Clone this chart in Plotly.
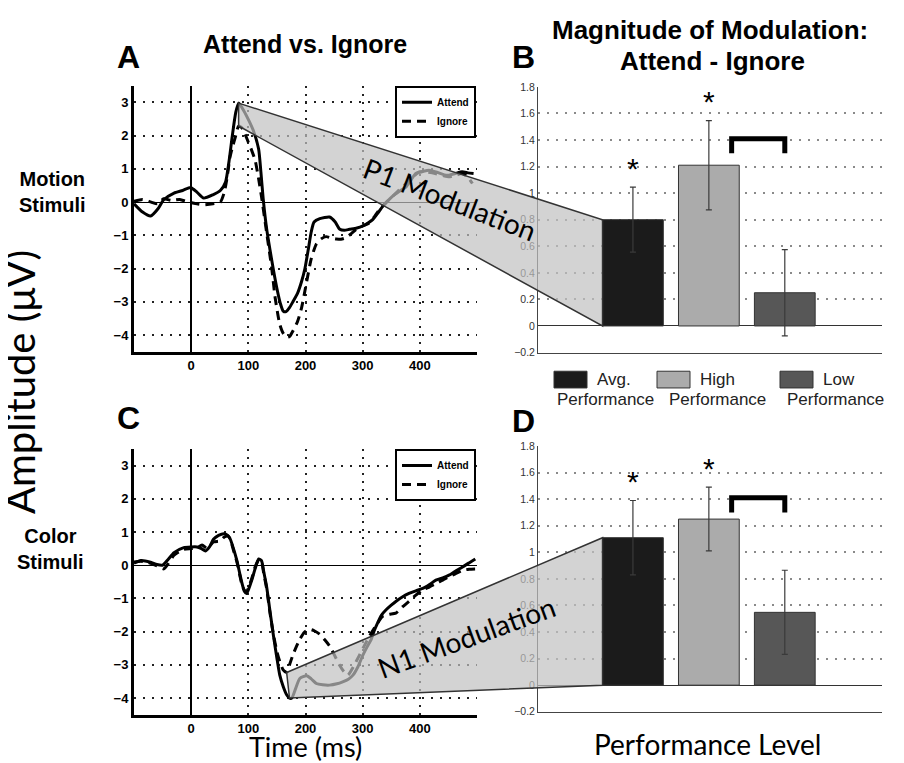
import plotly.graph_objects as go

# ---------------- data ----------------
# Panel A: Motion stimuli ERP (uV)
tA_att = [-100, -85, -71, -58, -48, -30, -15, -1, 10, 22, 38, 51, 60, 66, 72, 78, 83, 92, 101, 109,
          118, 122, 126, 132, 138, 144, 150, 156, 161, 166, 172, 178, 186, 193, 199, 205, 210, 215,
          225, 242, 252, 260, 268, 277, 290, 300, 310, 318, 328, 335, 343, 352, 364, 376, 385, 393,
          405, 416, 430, 443, 451, 462, 474, 484, 494]
vA_att = [-0.05, -0.3, -0.42, -0.2, 0.07, 0.27, 0.35, 0.44, 0.3, 0.12, 0.22, 0.35, 0.6, 1.2, 2.0, 2.7,
          2.98, 2.75, 2.45, 2.14, 1.6, 0.9, 0.1, -0.8, -1.45, -2.05, -2.6, -3.05, -3.28, -3.3, -3.18,
          -3.0, -2.75, -2.4, -2.0, -1.41, -0.9, -0.6, -0.5, -0.45, -0.6, -0.82, -0.85, -0.82, -0.78,
          -0.72, -0.62, -0.52, -0.3, -0.13, 0.02, 0.17, 0.32, 0.46, 0.68, 0.86, 0.92, 0.96, 0.9, 0.82,
          0.81, 0.86, 0.91, 0.88, 0.86]
tA_ign = [-100, -85, -70, -59, -48, -35, -20, -5, 10, 22, 38, 51, 58, 63, 68, 73, 77, 83, 88, 92, 100,
          106, 112, 118, 123, 132, 141, 147, 155, 161, 167, 172, 178, 186, 193, 202, 210, 219, 228,
          236, 245, 254, 262, 271, 280, 289, 300, 312, 320, 329, 340, 352, 364, 376, 388, 399, 413,
          427, 440, 451, 462, 474, 484, 492]
vA_ign = [0.02, 0.08, 0.0, -0.05, 0.1, 0.05, 0.08, 0.0, -0.05, -0.08, -0.05, 0.0, 0.3, 0.76, 1.36, 1.7,
          1.94, 2.29, 2.25, 2.14, 1.8, 1.55, 1.25, 0.7, 0.17, -0.92, -2.0, -2.89, -3.68, -3.95, -4.07,
          -4.05, -3.88, -3.6, -3.19, -2.4, -1.71, -1.26, -1.1, -1.04, -1.08, -1.11, -1.12, -1.07,
          -0.95, -0.82, -0.72, -0.62, -0.45, -0.23, -0.03, 0.17, 0.37, 0.56, 0.75, 0.91, 0.9, 0.86,
          0.8, 0.76, 0.8, 0.86, 0.75, 0.56]

# Panel C: Color stimuli ERP (uV)
tC_att = [-100, -88, -71, -60, -50, -40, -30, -13, 0, 10, 18, 25, 32, 39, 48, 57, 64, 68, 74, 80, 85,
          89, 93, 97, 101, 106, 112, 118, 123, 127, 132, 138, 144, 150, 155, 161, 167, 172, 176, 183,
          190, 202, 210, 219, 230, 242, 255, 265, 275, 283, 292, 300, 308, 315, 320, 326, 333, 341,
          350, 358, 370, 381, 393, 405, 417, 428, 440, 451, 462, 474, 486, 497]
vC_att = [0.06, 0.14, 0.09, 0.02, 0.0, 0.18, 0.38, 0.53, 0.55, 0.55, 0.5, 0.43, 0.55, 0.78, 0.9, 0.95,
          0.9, 0.8, 0.5, 0.14, -0.25, -0.55, -0.78, -0.85, -0.7, -0.45, -0.1, 0.19, 0.14, -0.2, -0.65,
          -1.4, -2.13, -2.8, -3.31, -3.65, -3.9, -4.0, -4.0, -3.7, -3.41, -3.33, -3.42, -3.56, -3.6,
          -3.61, -3.57, -3.51, -3.43, -3.31, -3.05, -2.72, -2.45, -2.23, -1.98, -1.74, -1.5, -1.34,
          -1.2, -1.09, -0.95, -0.85, -0.77, -0.7, -0.58, -0.45, -0.38, -0.3, -0.18, -0.06, 0.07, 0.19]
tC_ign = [-100, -88, -75, -60, -48, -40, -30, -13, 0, 10, 19, 28, 39, 51, 58, 64, 68, 74, 80, 85, 89,
          93, 97, 101, 106, 112, 118, 123, 127, 132, 138, 144, 150, 155, 161, 167, 172, 178, 184, 190,
          198, 207, 216, 225, 234, 242, 251, 260, 267, 274, 284, 294, 303, 312, 324, 335, 346, 358,
          370, 381, 393, 405, 417, 428, 440, 451, 462, 474, 486, 497]
vC_ign = [0.1, 0.12, 0.08, -0.02, -0.11, 0.05, 0.3, 0.48, 0.5, 0.52, 0.61, 0.5, 0.7, 0.73, 0.85, 0.88,
          0.8, 0.45, 0.1, -0.3, -0.6, -0.75, -0.8, -0.65, -0.4, -0.05, 0.15, 0.1, -0.25, -0.7, -1.45,
          -2.1, -2.6, -2.9, -3.15, -3.23, -3.0, -2.7, -2.45, -2.23, -2.02, -1.93, -1.98, -2.08, -2.25,
          -2.43, -2.72, -3.02, -3.2, -3.31, -3.05, -2.72, -2.42, -2.13, -1.8, -1.54, -1.48, -1.44,
          -1.25, -1.09, -0.9, -0.75, -0.65, -0.55, -0.45, -0.35, -0.26, -0.16, -0.12, -0.11]

# Panels B / D: modulation magnitude (Attend - Ignore)
groups = ["Avg.", "High", "Low"]
group_pos = [1, 2, 3]
bar_colors = ["#1b1b1b", "#ababab", "#575757"]
mod_B = [0.80, 1.21, 0.25]
err_B = [0.245, 0.336, 0.325]
mod_D = [1.11, 1.25, 0.548]
err_D = [0.28, 0.24, 0.317]
sig_B = [True, True, False]
sig_D = [True, True, False]
bracket_pos = [2.3, 3.0]        # High vs Low comparison
bracket_y = [1.30, 1.41]

erp_yticks = [-4, -3, -2, -1, 0, 1, 2, 3]
erp_xticks = [0, 100, 200, 300, 400]
bar_yticks = [-0.2, 0, 0.2, 0.4, 0.6, 0.8, 1, 1.2, 1.4, 1.6, 1.8]

# ---------------- layout geometry ----------------
# The page body has an 8px margin, so the figure is drawn at (8, 8) in the window.
OFF = 8
W, H = 904 - OFF, 763 - OFF


def fx(px):
    return (px - OFF) / W


def fy(py):
    return 1 - (py - OFF) / H


XD_L = [fx(134), fx(477)]
XD_R = [fx(538), fx(882)]
YD_A = [fy(351), fy(81)]
YD_C = [fy(720), fy(450)]
YD_B = [fy(352), fy(82)]
YD_D = [fy(717), fy(447)]
XR = [-100, 500]
YR = [-4.5, 3.5]
BXR = [-0.25, 4.28]
BYR = [-0.2, 1.8]
BAR_W = 0.8

BOLD = "Liberation Sans, Arial, Helvetica, sans-serif"
HUM = "Lato, 'Open Sans', 'Liberation Sans', sans-serif"


def minus(v):
    s = ("%g" % v)
    return s.replace("-", "\u2212")


fig = go.Figure()

att_line = dict(color="black", width=3, shape="spline", smoothing=0.6)
ign_line = dict(color="black", width=3, dash="9px,6px", shape="spline", smoothing=0.6)

fig.add_trace(go.Scatter(x=tA_att, y=vA_att, mode="lines", line=att_line, name="<b>Attend</b>",
                         xaxis="x", yaxis="y", legend="legend"))
fig.add_trace(go.Scatter(x=tA_ign, y=vA_ign, mode="lines", line=ign_line, name="<b>Ignore</b>",
                         xaxis="x", yaxis="y", legend="legend"))
fig.add_trace(go.Scatter(x=tC_att, y=vC_att, mode="lines", line=att_line, name="<b>Attend</b>",
                         xaxis="x3", yaxis="y3", legend="legend2"))
fig.add_trace(go.Scatter(x=tC_ign, y=vC_ign, mode="lines", line=ign_line, name="<b>Ignore</b>",
                         xaxis="x3", yaxis="y3", legend="legend2"))


def bar_panel(vals, errs, sig, xa, ya):
    fig.add_trace(go.Bar(x=group_pos, y=vals, width=BAR_W,
                         marker=dict(color=bar_colors, line=dict(color="#333333", width=1)),
                         error_y=dict(type="data", array=errs, color="#3a3a3a", thickness=1.2, width=3),
                         showlegend=False, xaxis=xa, yaxis=ya))
    sx = [p for p, s in zip(group_pos, sig) if s]
    sy = [v + e + 0.12 for v, e, s in zip(vals, errs, sig) if s]
    fig.add_trace(go.Scatter(x=sx, y=sy, mode="text", text=["*"] * len(sx),
                             textfont=dict(family=BOLD, size=30, color="black"),
                             showlegend=False, xaxis=xa, yaxis=ya))
    fig.add_trace(go.Scatter(x=[bracket_pos[0], bracket_pos[0], bracket_pos[1], bracket_pos[1]],
                             y=[bracket_y[0], bracket_y[1], bracket_y[1], bracket_y[0]],
                             mode="lines", line=dict(color="black", width=5),
                             showlegend=False, xaxis=xa, yaxis=ya))


bar_panel(mod_B, err_B, sig_B, "x2", "y2")
bar_panel(mod_D, err_D, sig_D, "x4", "y4")


def erp_axes(dom_y):
    xa = dict(domain=XD_L, range=XR, tickvals=erp_xticks, ticktext=[str(t) for t in erp_xticks],
              tickfont=dict(family=BOLD, size=13, color="black", weight="bold"),
              showgrid=True, gridcolor="#222222", gridwidth=1.5, griddash="2px,6px",
              zeroline=True, zerolinecolor="black", zerolinewidth=2,
              showline=True, linecolor="black", linewidth=3, ticks="", fixedrange=True)
    ya = dict(domain=dom_y, range=YR, tickvals=erp_yticks, ticktext=[minus(t) for t in erp_yticks],
              tickfont=dict(family=BOLD, size=13, color="black", weight="bold"),
              showgrid=True, gridcolor="#222222", gridwidth=1.5, griddash="2px,7px",
              zeroline=True, zerolinecolor="black", zerolinewidth=1.2,
              showline=True, linecolor="black", linewidth=3, ticks="", fixedrange=True)
    return xa, ya


def bar_axes(dom_y):
    xa = dict(domain=XD_R, range=BXR, showticklabels=False, showgrid=False, zeroline=False,
              showline=True, linecolor="#444444", linewidth=1, ticks="", fixedrange=True)
    ya = dict(domain=dom_y, range=BYR, tickvals=bar_yticks, ticktext=[minus(t) for t in bar_yticks],
              tickfont=dict(family="Liberation Sans, Arial, sans-serif", size=10.5, color="#333333"),
              showgrid=True, gridcolor="#8a8a8a", gridwidth=1.5, griddash="1.5px,7.5px",
              zeroline=True, zerolinecolor="#333333", zerolinewidth=1.2,
              showline=True, linecolor="#444444", linewidth=1, ticks="", fixedrange=True)
    return xa, ya


xa1, ya1 = erp_axes(YD_A)
xa3, ya3 = erp_axes(YD_C)
xa2, ya2 = bar_axes(YD_B)
xa4, ya4 = bar_axes(YD_D)
xa1["anchor"] = "y"; ya1["anchor"] = "x"
xa2["anchor"] = "y2"; ya2["anchor"] = "x2"
xa3["anchor"] = "y3"; ya3["anchor"] = "x3"
xa4["anchor"] = "y4"; ya4["anchor"] = "x4"


def to_paper(v, dom, rng):
    return dom[0] + (v - rng[0]) / (rng[1] - rng[0]) * (dom[1] - dom[0])


def peak(ts, vs, lo, hi, fn):
    cand = [(v, t) for t, v in zip(ts, vs) if lo <= t <= hi]
    v, t = fn(cand)
    return t, v


# Modulation wedges linking component peaks to the Avg bar
bar_left = group_pos[0] - BAR_W / 2
p1_att = peak(tA_att, vA_att, 50, 120, max)
p1_ign = peak(tA_ign, vA_ign, 50, 120, max)
n1_att = peak(tC_att, vC_att, 150, 200, min)
n1_ign = peak(tC_ign, vC_ign, 150, 200, min)


def wedge(top_pt, bot_pt, erp_ydom, bar_val, bar_ydom):
    pts = [
        (to_paper(top_pt[0], XD_L, XR), to_paper(top_pt[1], erp_ydom, YR)),
        (to_paper(bar_left, XD_R, BXR), to_paper(bar_val, bar_ydom, BYR)),
        (to_paper(bar_left, XD_R, BXR), to_paper(0, bar_ydom, BYR)),
        (to_paper(bot_pt[0], XD_L, XR), to_paper(bot_pt[1], erp_ydom, YR)),
    ]
    path = "M " + " L ".join("%.5f,%.5f" % p for p in pts) + " Z"
    return dict(type="path", path=path, xref="paper", yref="paper", layer="above",
                fillcolor="rgba(193,193,193,0.7)", line=dict(color="#333333", width=1.5))


shapes = [
    wedge(p1_att, p1_ign, YD_A, mod_B[0], YD_B),
    wedge(n1_ign, n1_att, YD_C, mod_D[0], YD_D),
]

# Group legend swatches (between B and D)
leg_items = [
    (554, "Avg.", 555),
    (657, "High", 667),
    (780, "Low", 785),
]
annotations = []
LEGF = dict(family="Liberation Sans, Arial, sans-serif", size=17, color="#222222")
for (sx, lab, perf_x), col in zip(leg_items, bar_colors):
    shapes.append(dict(type="rect", xref="paper", yref="paper", x0=fx(sx), x1=fx(sx + 33),
                       y0=fy(388), y1=fy(371), fillcolor=col,
                       line=dict(color="#333333", width=1)))
    annotations.append(dict(x=fx(sx + 41), y=fy(379), text=lab, xanchor="left", yanchor="middle",
                            font=LEGF))
    annotations.append(dict(x=fx(perf_x), y=fy(400), text="Performance", xanchor="left",
                            yanchor="middle", font=LEGF))


def ann(x, y, text, font, angle=0, xanchor="center"):
    annotations.append(dict(x=fx(x), y=fy(y), text=text, font=font, textangle=angle,
                            xanchor=xanchor, yanchor="middle"))


ann(128, 52, "<b>A</b>", dict(family=BOLD, size=32, color="black"))
ann(523, 52, "<b>B</b>", dict(family=BOLD, size=32, color="black"))
ann(128, 419, "<b>C</b>", dict(family=BOLD, size=32, color="black"))
ann(523, 422, "<b>D</b>", dict(family=BOLD, size=32, color="black"))
ann(305, 38, "<b>Attend vs. Ignore</b>", dict(family=BOLD, size=25, color="black"))
ann(710, 24, "<b>Magnitude of Modulation:</b>", dict(family=BOLD, size=26, color="black"))
ann(712, 56, "<b>Attend - Ignore</b>", dict(family=BOLD, size=26, color="black"))
ann(52, 189, "<b>Motion<br>Stimuli</b>", dict(family=BOLD, size=20, color="black"))
ann(50, 552, "<b>Color<br>Stimuli</b>", dict(family=BOLD, size=20, color="black"))
ann(20, 382, "Amplitude (\u03bcV)", dict(family=HUM, size=40, color="black"), angle=-90)
ann(305, 752, "Time (ms)", dict(family=HUM, size=27, color="black"))
ann(707, 750, "Performance Level", dict(family=HUM, size=28, color="black"))
ann(450, 196, "P1 Modulation", dict(family=HUM, size=28, color="black"), angle=21)
ann(466, 641, "N1 Modulation", dict(family=HUM, size=28, color="black"), angle=-20)

for a in annotations:
    a.setdefault("xref", "paper")
    a.setdefault("yref", "paper")
    a["showarrow"] = False

legend_common = dict(bordercolor="black", borderwidth=2, bgcolor="white",
                     font=dict(family=BOLD, size=10, color="black"),
                     itemwidth=30, tracegroupgap=0, xanchor="right", yanchor="top")

fig.update_layout(
    width=W, height=H, margin=dict(l=0, r=0, t=0, b=0),
    paper_bgcolor="white", plot_bgcolor="white",
    xaxis=xa1, yaxis=ya1, xaxis2=xa2, yaxis2=ya2, xaxis3=xa3, yaxis3=ya3, xaxis4=xa4, yaxis4=ya4,
    legend=dict(x=fx(476), y=fy(81), **legend_common),
    legend2=dict(x=fx(476), y=fy(450), **legend_common),
    shapes=shapes, annotations=annotations, bargap=0.2,
)

fig.write_html("out.html")
